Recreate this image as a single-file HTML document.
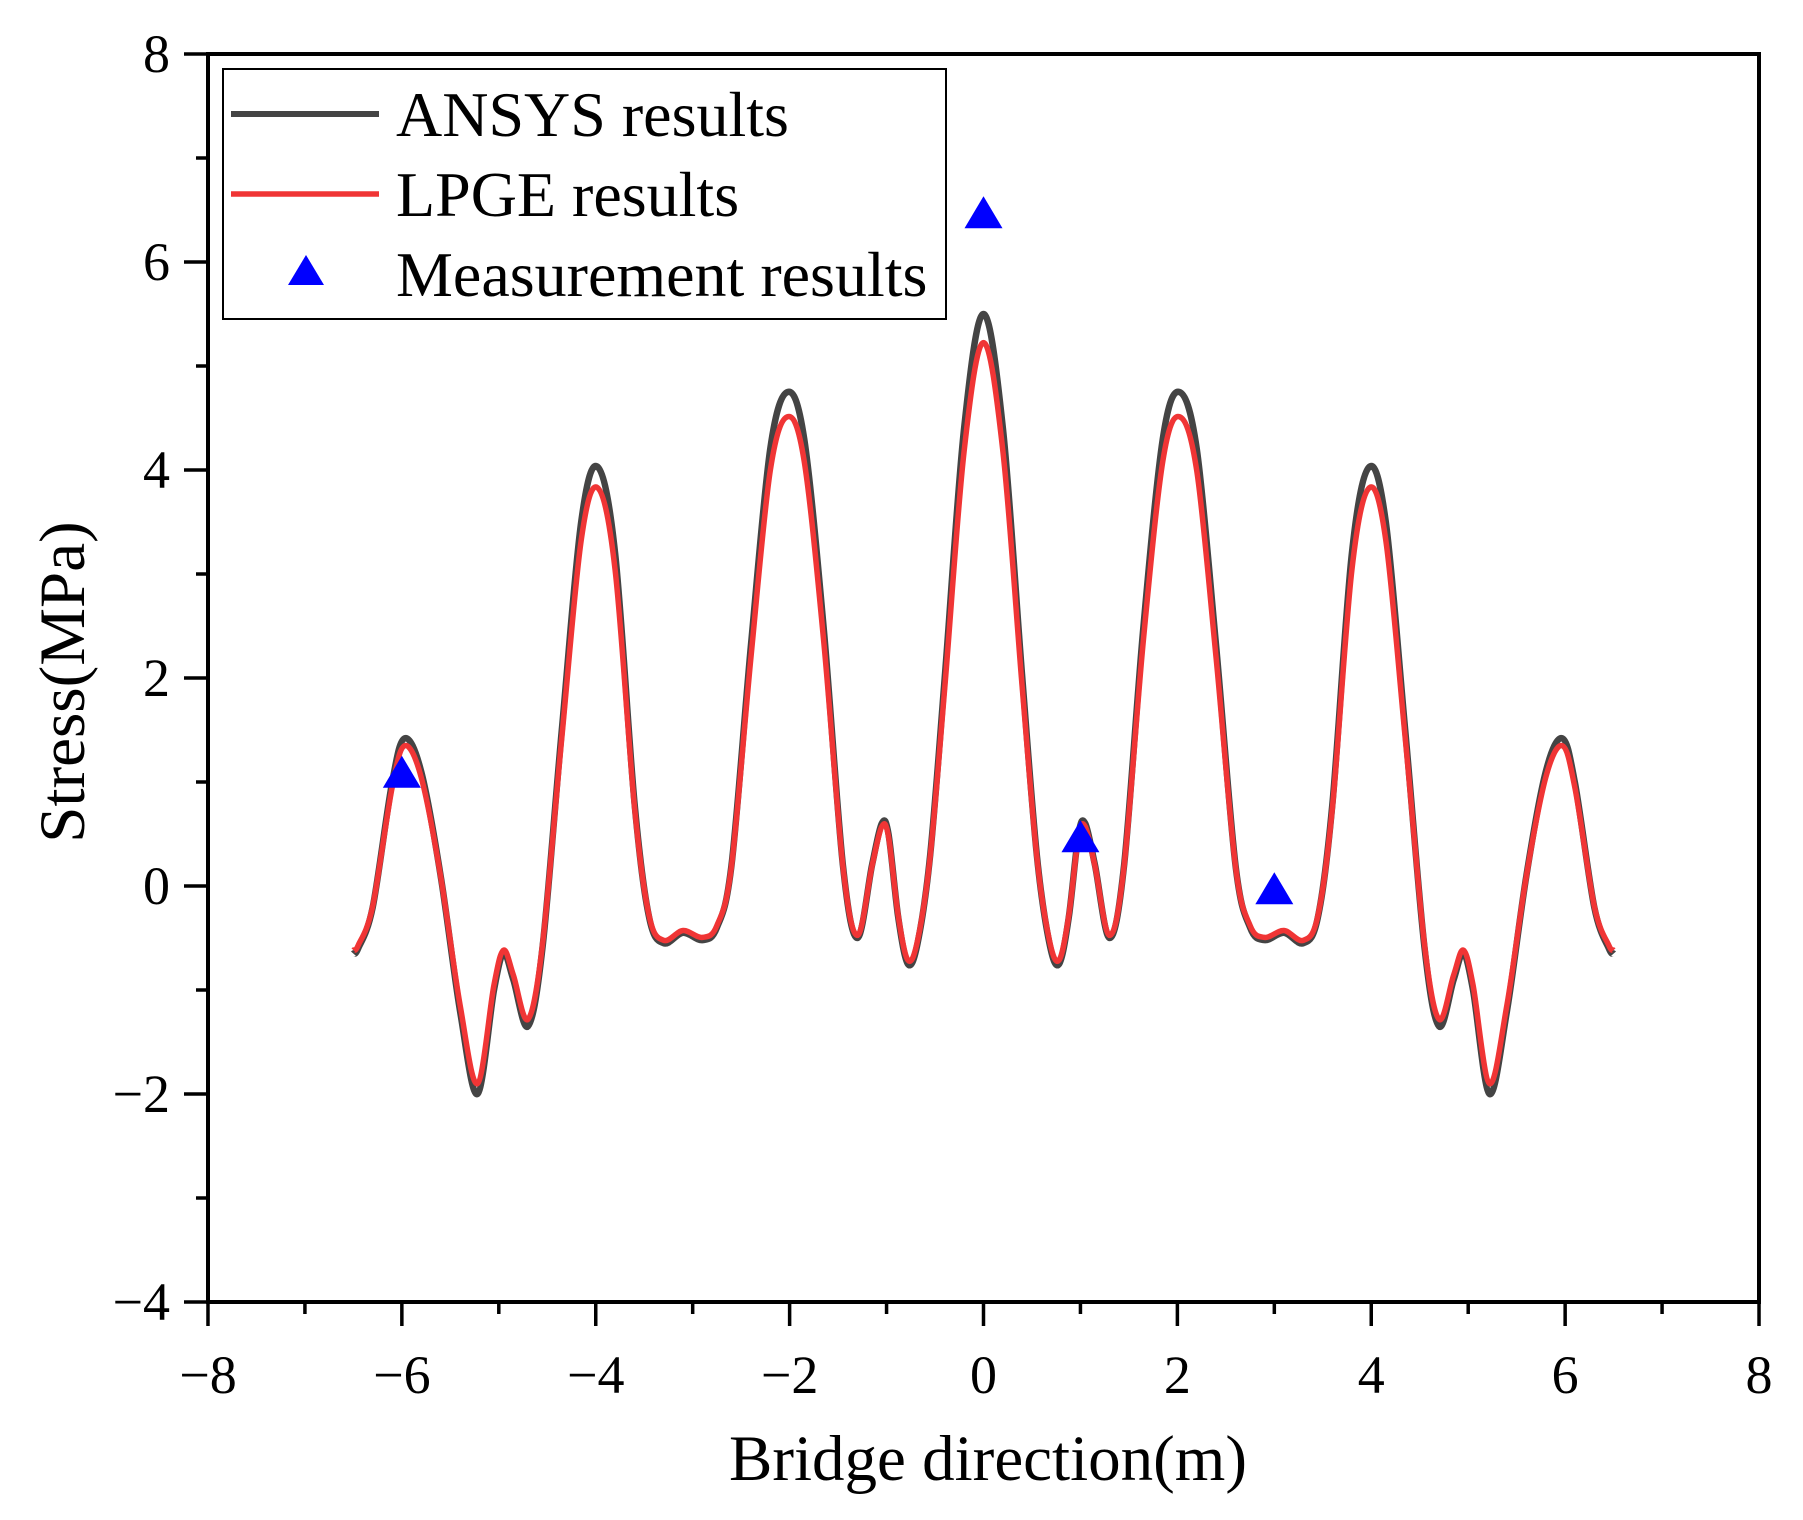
<!DOCTYPE html>
<html><head><meta charset="utf-8"><style>
html,body{margin:0;padding:0;background:#fff;}
svg{display:block;}
text{font-family:"Liberation Serif",serif;fill:#000;}
</style></head><body>
<svg id="s" width="1803" height="1520" viewBox="0 0 1803 1520" xmlns="http://www.w3.org/2000/svg">
<g id="ticks" stroke="#000" stroke-width="3.5"></g>
<g id="labels" font-size="54"></g>
<path id="ansys" fill="none" stroke="#444" stroke-width="6.5" stroke-linejoin="round"/>
<path id="lpge" fill="none" stroke="#f03535" stroke-width="5.5" stroke-linejoin="round"/>
<g id="tri" fill="#0000ff"></g>
<rect x="208" y="54" width="1551" height="1248" fill="none" stroke="#000" stroke-width="4"/>
<rect x="223" y="69" width="723" height="250" fill="#fff" stroke="#000" stroke-width="2"/>
<line x1="231" y1="114" x2="379" y2="114" stroke="#444" stroke-width="6"/>
<line x1="231" y1="194" x2="379" y2="194" stroke="#f03535" stroke-width="5.5"/>
<polygon points="306,255 324,285 288,285" fill="#0000ff"/>
<text x="396" y="136" font-size="64">ANSYS results</text>
<text x="396" y="216" font-size="64">LPGE results</text>
<text x="396" y="296" font-size="64">Measurement results</text>
<text x="988" y="1480" font-size="65" text-anchor="middle">Bridge direction(m)</text>
<text transform="translate(84,682) rotate(-90)" font-size="65" text-anchor="middle">Stress(MPa)</text>
</svg>
<script>
var X0=983.5,XU=96.94,Y0=886,YU=104;
function px(x){return X0+x*XU} function py(y){return Y0-y*YU}
var NS="http://www.w3.org/2000/svg";
var t=document.getElementById('ticks'),l=document.getElementById('labels');
function ln(a,b,c,d){var e=document.createElementNS(NS,'line');e.setAttribute('x1',a);e.setAttribute('y1',b);e.setAttribute('x2',c);e.setAttribute('y2',d);t.appendChild(e);}
function tx(x,y,s,anc){var e=document.createElementNS(NS,'text');e.setAttribute('x',x);e.setAttribute('y',y);e.setAttribute('text-anchor',anc);e.textContent=s;l.appendChild(e);}
for(var i=-8;i<=8;i++){var x=px(i);ln(x,1302,x,1302+(i%2==0?24:12));if(i%2==0)tx(x,1393,(i<0?'\u2212':'')+Math.abs(i),'middle');}
for(var j=-4;j<=8;j++){var y=py(j);ln(208,y,208-(j%2==0?24:12),y);if(j%2==0)tx(170,y+18,(j<0?'\u2212':'')+Math.abs(j),'end');}
var half=[[0,5.5],[0.2,4.4],[0.4,2.0],[0.55,0.3],[0.68,-0.55],[0.78,-0.75],[0.88,-0.3],[0.98,0.5],[1.05,0.6],[1.15,0.2],[1.3,-0.5],[1.45,0.2],[1.65,2.5],[1.85,4.3],[2.02,4.75],[2.2,4.2],[2.4,2.3],[2.6,0.2],[2.75,-0.4],[2.9,-0.52],[3.1,-0.45],[3.3,-0.55],[3.45,-0.3],[3.6,0.8],[3.8,3.2],[3.98,4.03],[4.15,3.5],[4.35,1.5],[4.55,-0.6],[4.7,-1.35],[4.85,-0.9],[4.95,-0.65],[5.05,-1.0],[5.22,-2.0],[5.4,-1.2],[5.6,0.1],[5.8,1.1],[5.97,1.42],[6.1,1.0],[6.3,-0.2],[6.45,-0.6],[6.5,-0.65]];
var pts=[];for(var k=half.length-1;k>0;k--)pts.push([-half[k][0],half[k][1]]);for(k=0;k<half.length;k++)pts.push(half[k]);
function path(f){var P=pts.map(function(p){return [px(p[0]),py(p[1]*f)]});var d='M'+P[0][0].toFixed(1)+','+P[0][1].toFixed(1);
for(var i=0;i<P.length-1;i++){var p0=P[i-1]||P[i],p1=P[i],p2=P[i+1],p3=P[i+2]||P[i+1];
var c1=[p1[0]+(p2[0]-p0[0])/6,p1[1]+(p2[1]-p0[1])/6],c2=[p2[0]-(p3[0]-p1[0])/6,p2[1]-(p3[1]-p1[1])/6];
d+='C'+c1[0].toFixed(1)+','+c1[1].toFixed(1)+' '+c2[0].toFixed(1)+','+c2[1].toFixed(1)+' '+p2[0].toFixed(1)+','+p2[1].toFixed(1);}return d;}
document.getElementById('ansys').setAttribute('d',path(1));
document.getElementById('lpge').setAttribute('d',path(0.95));
var g=document.getElementById('tri');
[[-6,1.07],[0,6.45],[1,0.45],[3,-0.05]].forEach(function(m){var x=px(m[0]),y=py(m[1]);var e=document.createElementNS(NS,'polygon');e.setAttribute('points',x+','+(y-19)+' '+(x+19)+','+(y+13)+' '+(x-19)+','+(y+13));g.appendChild(e);});
</script>
</body></html>
